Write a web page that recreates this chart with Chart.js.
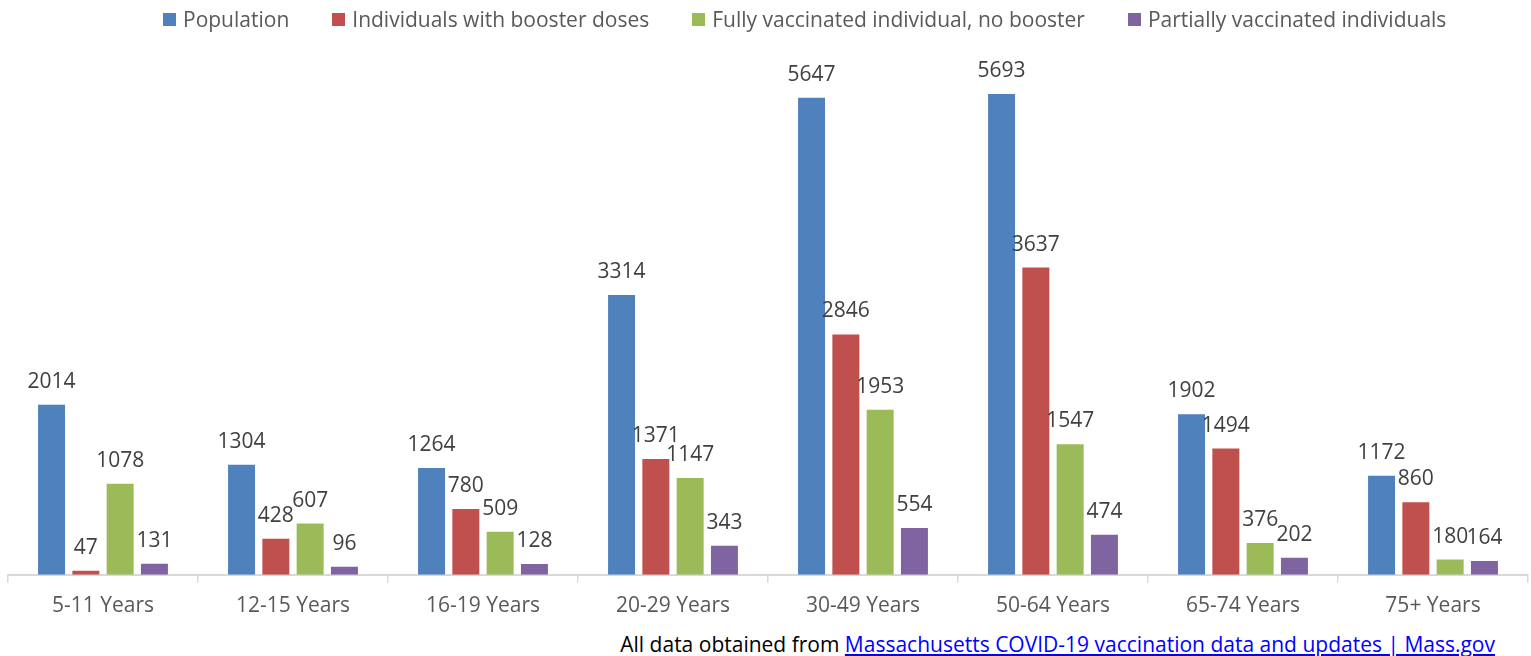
<!DOCTYPE html>
<html>
<head>
<meta charset="utf-8">
<script src="https://cdn.jsdelivr.net/npm/chart.js@4.4.1/dist/chart.umd.min.js"></script>
<style>
  html, body { margin: 0; padding: 0; background: #fff; }
  #wrap { position: relative; width: 1531px; height: 656px; overflow: hidden; }
  #chartBox { position: absolute; left: 0; top: 0; width: 1531px; height: 630px; }
  #legend { position: absolute; left: 163px; top: 5px; display: flex; align-items: center;
    font-family: "Open Sans", sans-serif; font-size: 21px; color: #595959; white-space: nowrap; }
  #legend .item { display: flex; align-items: center; margin-right: 43px; }
  #legend .box { width: 13px; height: 13px; margin-right: 7px; }
  #footer { position: absolute; right: 36px; top: 631px; font-family: "Open Sans", sans-serif;
    font-size: 21px; color: #000; white-space: nowrap; line-height: 26px; }
  #footer a { color: #0000ff; text-decoration: underline; }
</style>
</head>
<body>
<div id="wrap">
  <div id="chartBox"><canvas id="c"></canvas></div>
  <div id="legend"></div>
  <div id="footer">All data obtained from <a href="#">Massachusetts COVID-19 vaccination data and updates | Mass.gov</a></div>
</div>
<script>
const categories = ["5-11 Years", "12-15 Years", "16-19 Years", "20-29 Years", "30-49 Years", "50-64 Years", "65-74 Years", "75+ Years"];
const seriesNames = ["Population", "Individuals with booster doses", "Fully vaccinated individual, no booster", "Partially vaccinated individuals"];
const population = [2014, 1304, 1264, 3314, 5647, 5693, 1902, 1172];
const boosted = [47, 428, 780, 1371, 2846, 3637, 1494, 860];
const fullyNoBooster = [1078, 607, 509, 1147, 1953, 1547, 376, 180];
const partially = [131, 96, 128, 343, 554, 474, 202, 164];
const colors = ["#4F81BD", "#C0504D", "#9BBB59", "#8064A2"];

const seriesValues = [population, boosted, fullyNoBooster, partially];

const valueLabels = {
  id: 'valueLabels',
  afterDatasetsDraw(chart) {
    const ctx = chart.ctx;
    ctx.save();
    ctx.font = '21px "Open Sans", sans-serif';
    ctx.fillStyle = '#404040';
    ctx.textAlign = 'center';
    ctx.textBaseline = 'alphabetic';
    chart.data.datasets.forEach((ds, i) => {
      const meta = chart.getDatasetMeta(i);
      meta.data.forEach((el, j) => {
        ctx.fillText(String(ds.data[j]), el.x, el.y - 17);
      });
    });
    ctx.restore();
  }
};

const chart = new Chart(document.getElementById('c'), {
  type: 'bar',
  data: {
    labels: categories,
    datasets: seriesValues.map((vals, i) => ({
      label: seriesNames[i],
      data: vals,
      backgroundColor: colors[i],
      borderWidth: 0,
      categoryPercentage: 0.722,
      barPercentage: 0.787
    }))
  },
  options: {
    responsive: true,
    maintainAspectRatio: false,
    animation: false,
    layout: { padding: { left: 8, right: 3, top: 68, bottom: 0 } },
    plugins: { legend: { display: false }, tooltip: { enabled: false } },
    scales: {
      x: {
        offset: true,
        grid: { display: true, drawOnChartArea: false, drawTicks: true, tickLength: 8, color: '#d9d9d9', lineWidth: 1.5, offset: true },
        border: { display: true, color: '#d9d9d9', width: 2 },
        ticks: { color: '#595959', font: { family: '"Open Sans", sans-serif', size: 21 }, padding: 11, maxRotation: 0 }
      },
      y: {
        display: false,
        min: 0,
        max: 6000,
        grid: { display: false }
      }
    }
  },
  plugins: [valueLabels]
});

const legend = document.getElementById('legend');
seriesNames.forEach((n, i) => {
  const it = document.createElement('div');
  it.className = 'item';
  const b = document.createElement('span');
  b.className = 'box';
  b.style.background = colors[i];
  const t = document.createElement('span');
  t.textContent = n;
  it.appendChild(b); it.appendChild(t);
  legend.appendChild(it);
});
</script>
</body>
</html>
